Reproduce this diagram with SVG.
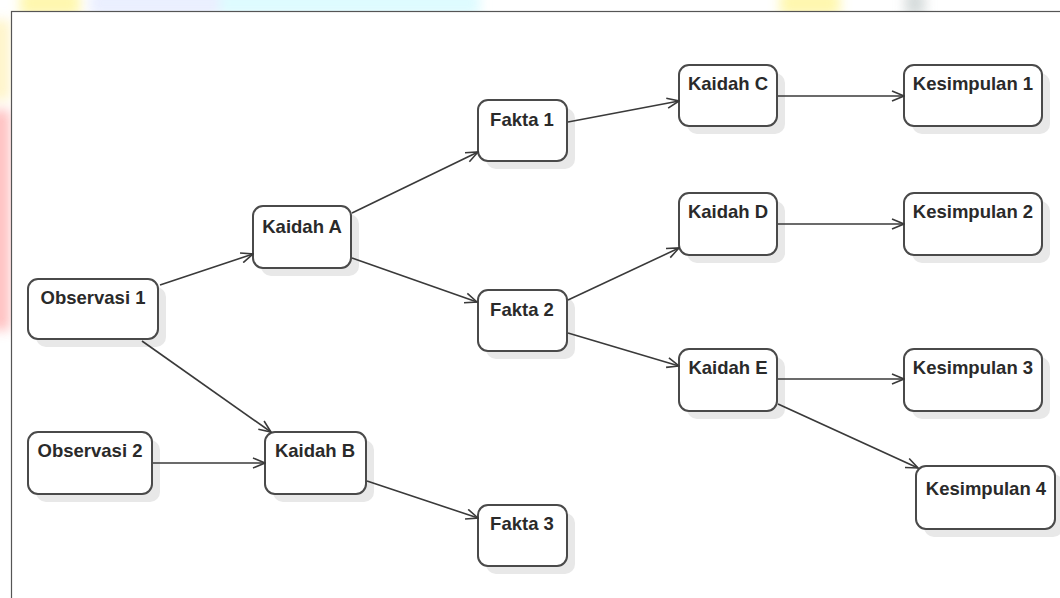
<svg xmlns="http://www.w3.org/2000/svg" width="1060" height="598" viewBox="0 0 1060 598">
  <defs>
    <style>
      .box { fill: #ffffff; stroke: #4a4a4a; stroke-width: 2; }
      .shadow { fill: #e8e8e8; }
      .lbl { font-family: "Liberation Sans", Arial, sans-serif; font-size: 18.5px; font-weight: bold; fill: #2a2a2a; text-anchor: middle; }
      .edge { fill: none; stroke: #3a3a3a; stroke-width: 1.6; marker-end: url(#open); }
    </style>
    <marker id="open" viewBox="0 0 14 12" refX="13" refY="6" markerWidth="14" markerHeight="12" markerUnits="userSpaceOnUse" orient="auto">
      <path d="M1,1 L13,6 L1,11" fill="none" stroke="#3a3a3a" stroke-width="1.6"/>
    </marker>
    <filter id="soft" x="-20%" y="-50%" width="140%" height="200%">
      <feGaussianBlur stdDeviation="6"/>
    </filter>
  </defs>

  <!-- backdrop outside the canvas frame -->
  <rect x="0" y="0" width="1060" height="598" fill="#ffffff"/>
  <g filter="url(#soft)" opacity="0.85">
    <rect x="20" y="-10" width="60" height="26" fill="#fff6a0"/>
    <rect x="90" y="-10" width="380" height="26" fill="#e6ecff"/>
    <rect x="220" y="-10" width="260" height="26" fill="#d8fbff"/>
    <rect x="780" y="-10" width="60" height="26" fill="#fff6a0"/>
    <rect x="905" y="-10" width="20" height="26" fill="#cfd6d6"/>
    <rect x="-10" y="20" width="20" height="80" fill="#fff3c0"/>
    <rect x="-10" y="110" width="20" height="220" fill="#ffb6b6"/>
  </g>

  <!-- canvas frame -->
  <rect x="11.5" y="11.5" width="1060" height="600" fill="#ffffff" stroke="#555555" stroke-width="1.2"/>

  <!-- nodes -->
  <g id="observasi-1">
    <rect class="shadow" x="36" y="287" width="130" height="60" rx="10"/>
    <rect class="box" x="28" y="279" width="130" height="60" rx="10"/>
    <text class="lbl" x="93" y="304">Observasi 1</text>
  </g>
  <g id="observasi-2">
    <rect class="shadow" x="36" y="440" width="124" height="62" rx="10"/>
    <rect class="box" x="28" y="432" width="124" height="62" rx="10"/>
    <text class="lbl" x="90" y="457">Observasi 2</text>
  </g>
  <g id="kaidah-a">
    <rect class="shadow" x="261" y="214" width="98" height="62" rx="10"/>
    <rect class="box" x="253" y="206" width="98" height="62" rx="10"/>
    <text class="lbl" x="302" y="233">Kaidah A</text>
  </g>
  <g id="kaidah-b">
    <rect class="shadow" x="273" y="440" width="101" height="62" rx="10"/>
    <rect class="box" x="265" y="432" width="101" height="62" rx="10"/>
    <text class="lbl" x="315" y="457">Kaidah B</text>
  </g>
  <g id="fakta-1">
    <rect class="shadow" x="486" y="108" width="89" height="61" rx="10"/>
    <rect class="box" x="478" y="100" width="89" height="61" rx="10"/>
    <text class="lbl" x="522" y="126">Fakta 1</text>
  </g>
  <g id="fakta-2">
    <rect class="shadow" x="486" y="298" width="89" height="61" rx="10"/>
    <rect class="box" x="478" y="290" width="89" height="61" rx="10"/>
    <text class="lbl" x="522" y="316">Fakta 2</text>
  </g>
  <g id="fakta-3">
    <rect class="shadow" x="486" y="513" width="89" height="61" rx="10"/>
    <rect class="box" x="478" y="505" width="89" height="61" rx="10"/>
    <text class="lbl" x="522" y="530">Fakta 3</text>
  </g>
  <g id="kaidah-c">
    <rect class="shadow" x="687" y="73" width="98" height="61" rx="10"/>
    <rect class="box" x="679" y="65" width="98" height="61" rx="10"/>
    <text class="lbl" x="728" y="90">Kaidah C</text>
  </g>
  <g id="kaidah-d">
    <rect class="shadow" x="687" y="201" width="98" height="62" rx="10"/>
    <rect class="box" x="679" y="193" width="98" height="62" rx="10"/>
    <text class="lbl" x="728" y="218">Kaidah D</text>
  </g>
  <g id="kaidah-e">
    <rect class="shadow" x="687" y="357" width="98" height="62" rx="10"/>
    <rect class="box" x="679" y="349" width="98" height="62" rx="10"/>
    <text class="lbl" x="728" y="374">Kaidah E</text>
  </g>
  <g id="kesimpulan-1">
    <rect class="shadow" x="912" y="73" width="138" height="61" rx="10"/>
    <rect class="box" x="904" y="65" width="138" height="61" rx="10"/>
    <text class="lbl" x="973" y="90">Kesimpulan 1</text>
  </g>
  <g id="kesimpulan-2">
    <rect class="shadow" x="912" y="201" width="138" height="62" rx="10"/>
    <rect class="box" x="904" y="193" width="138" height="62" rx="10"/>
    <text class="lbl" x="973" y="218">Kesimpulan 2</text>
  </g>
  <g id="kesimpulan-3">
    <rect class="shadow" x="912" y="357" width="138" height="62" rx="10"/>
    <rect class="box" x="904" y="349" width="138" height="62" rx="10"/>
    <text class="lbl" x="973" y="374">Kesimpulan 3</text>
  </g>
  <g id="kesimpulan-4">
    <rect class="shadow" x="924" y="474" width="139" height="63" rx="10"/>
    <rect class="box" x="916" y="466" width="139" height="63" rx="10"/>
    <text class="lbl" x="986" y="495">Kesimpulan 4</text>
  </g>

  <!-- connectors, drawn above the node shadows -->
  <g id="connectors">
    <line class="edge" x1="160" y1="285" x2="253" y2="254"/>
    <line class="edge" x1="142" y1="341" x2="271" y2="432"/>
    <line class="edge" x1="153" y1="463" x2="265" y2="463"/>
    <line class="edge" x1="352" y1="213" x2="478" y2="152"/>
    <line class="edge" x1="352" y1="258" x2="477" y2="302"/>
    <line class="edge" x1="367" y1="481" x2="478" y2="518"/>
    <line class="edge" x1="568" y1="122" x2="679" y2="101"/>
    <line class="edge" x1="568" y1="300" x2="679" y2="248"/>
    <line class="edge" x1="568" y1="333" x2="679" y2="366"/>
    <line class="edge" x1="778" y1="96" x2="904" y2="96"/>
    <line class="edge" x1="778" y1="224" x2="904" y2="224"/>
    <line class="edge" x1="778" y1="379" x2="904" y2="379"/>
    <line class="edge" x1="778" y1="404" x2="918" y2="468"/>
  </g>
</svg>
